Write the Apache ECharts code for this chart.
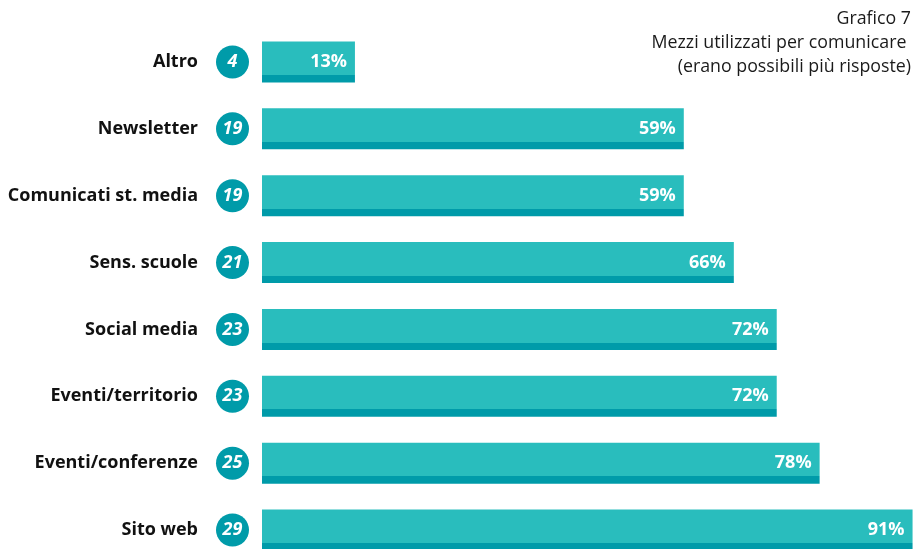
<!DOCTYPE html>
<html lang="it">
<head>
  <meta charset="UTF-8">
  <title>Grafico 7</title>
  <script src="https://cdn.jsdelivr.net/npm/echarts@6/dist/echarts.min.js"></script>
  <style>
    html, body { margin: 0; padding: 0; background: #fff; }
    #main { width: 919px; height: 549px; }
  </style>
</head>
<body>
<div id="main"></div>
<script>
  // dati (dall'alto in basso)
  var categories = ['Altro', 'Newsletter', 'Comunicati st. media', 'Sens. scuole', 'Social media', 'Eventi/territorio', 'Eventi/conferenze', 'Sito web'];
  var counts = [4, 19, 19, 21, 23, 23, 25, 29];
  var percents = [13, 59, 59, 66, 72, 72, 78, 91];

  var light = '#29bdbd';
  var dark = '#009ba9';

  var chart = echarts.init(document.getElementById('main'));
  chart.setOption({
    animation: false,
    graphic: [{
      type: 'text',
      right: 8,
      top: 7,
      style: {
        text: 'Grafico 7\nMezzi utilizzati per comunicare \n(erano possibili più risposte)',
        textAlign: 'right',
        fontFamily: 'Open Sans',
        fontSize: 17.8,
        lineHeight: 24,
        fill: '#1a1a1a'
      }
    }],
    grid: {
      left: 262,
      top: 62,
      right: 0,
      height: 468
    },
    xAxis: {
      type: 'value',
      min: 0,
      max: 91.9,
      show: false
    },
    yAxis: {
      type: 'category',
      data: categories,
      inverse: true,
      boundaryGap: false,
      axisLine: { show: false },
      axisTick: { show: false },
      splitLine: { show: false },
      axisLabel: {
        margin: 13,
        formatter: function (value, idx) {
          return '{n|' + value + '}{c|' + counts[idx] + '}';
        },
        rich: {
          n: {
            fontFamily: 'Open Sans',
            fontWeight: 'bold',
            fontSize: 18,
            color: '#111',
            padding: [0, 18, 0, 0]
          },
          c: {
            fontFamily: 'Open Sans',
            fontWeight: 'bold',
            fontStyle: 'italic',
            fontSize: 18,
            color: '#fff',
            backgroundColor: dark,
            width: 33,
            height: 33,
            borderRadius: 17,
            align: 'center',
            verticalAlign: 'middle'
          }
        }
      }
    },
    series: [{
      type: 'bar',
      data: percents,
      barWidth: 41,
      itemStyle: {
        color: new echarts.graphic.LinearGradient(0, 0, 0, 1, [
          { offset: 0, color: light },
          { offset: 0.82, color: light },
          { offset: 0.82, color: dark },
          { offset: 1, color: dark }
        ])
      },
      label: {
        show: true,
        position: 'insideRight',
        distance: 8,
        formatter: '{c}%',
        fontFamily: 'Open Sans',
        fontWeight: 'bold',
        fontSize: 18,
        color: '#fff'
      }
    }]
  });
</script>
</body>
</html>
